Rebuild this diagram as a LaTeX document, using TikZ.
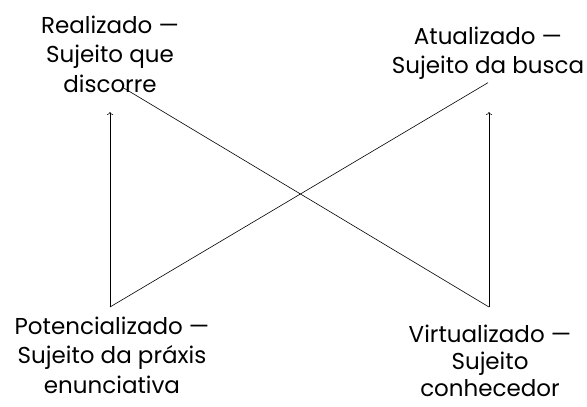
\documentclass[tikz,border=0pt]{standalone}
\usepackage{fontspec}
\setmainfont{Poppins}
\usetikzlibrary{positioning, arrows.meta}
\tikzset{
    termo/.style={align=center, font=\fontsize{23}{29.5}\selectfont, inner sep=3pt},
    seta/.style={->, line width=0.6pt},
    liga/.style={line width=0.6pt}
}
\begin{document}
\begin{tikzpicture}[x=1pt, y=-1pt]
    \useasboundingbox (0,0) rectangle (587,407);
    % the four subjects
    \node[termo] (real) at (110,54) {Realizado ---\\Sujeito que\\discorre};
    \node[termo] (atual) at (488,53) {Atualizado ---\\Sujeito da busca};
    \node[termo] (poten) at (112,355) {Potencializado ---\\Sujeito da práxis\\enunciativa};
    \node[termo, font=\fontsize{23}{27}\selectfont, inner sep=1pt] (virt) at (490,361) {Virtualizado ---\\Sujeito\\conhecedor};
    % corners
    \coordinate (pbase) at (110,307);
    \coordinate (vbase) at (489,307);
    \coordinate (rtopo) at (110,112);
    \coordinate (atopo) at (489,112);
    \coordinate (rfim) at (122,87);
    % connectors
    \draw[seta] (pbase) -- (rtopo);
    \draw[seta] (vbase) -- (atopo);
    \draw[liga] (pbase) -- (atual.south);
    \draw[liga] (vbase) -- (rfim);
\end{tikzpicture}
\end{document}
